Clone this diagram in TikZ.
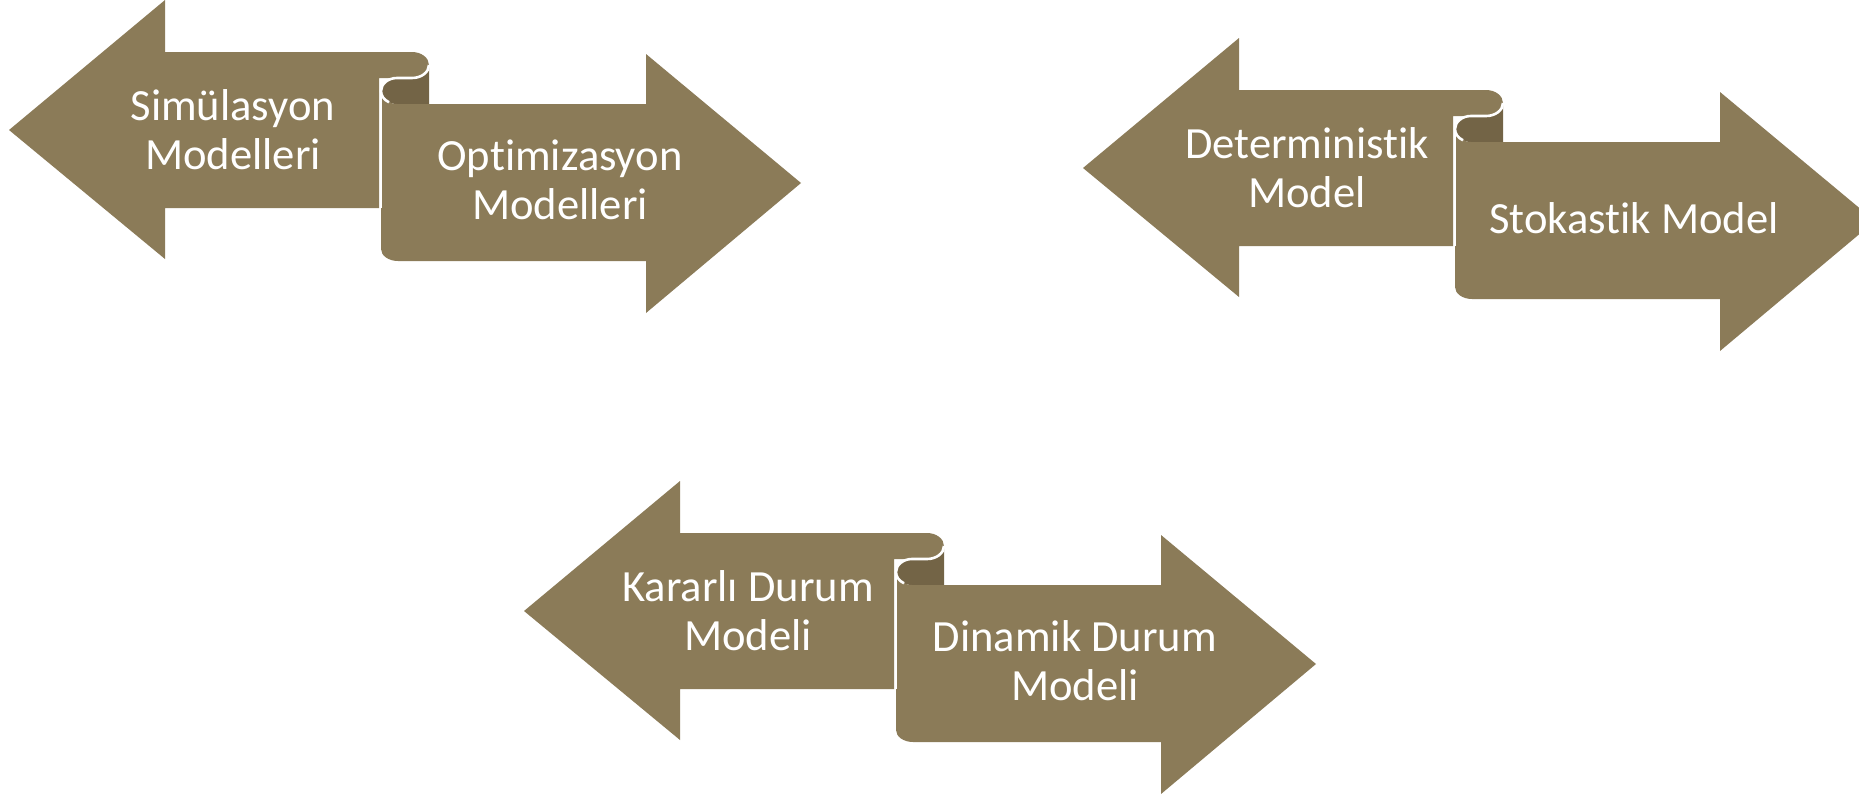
\documentclass[tikz,border=0pt]{standalone}
\usepackage{fontspec}
\setmainfont{Carlito}[Ligatures=NoCommon]
\definecolor{scrolllite}{RGB}{139,123,88}
\definecolor{scrolldark}{RGB}{115,100,70}
\begin{document}
\begin{tikzpicture}[x=0.5pt,y=-0.5pt,every node/.style={text=white,align=center,inner sep=0pt,font=\fontsize{22.3}{24.5}\selectfont},
  lite/.style={fill=scrolllite},
  back/.style={fill=scrolldark},
  rim/.style={draw=white,line width=1.3pt}]
\useasboundingbox (0,0) rectangle (1859,793);
\clip (0,0) rectangle (1859,793);
% first pair
\begin{scope}
\fill[lite] (9,130) -- (165,0) -- (165,52) -- (412,52) arc[start angle=-90, end angle=90, x radius=17, y radius=13] -- (379,78) -- (379,208) -- (165,208) -- (165,259) -- cycle;
\fill[back] (429,65) arc[start angle=0, end angle=90, x radius=17, y radius=13] -- (397,78) arc[start angle=270, end angle=90, x radius=16, y radius=13] -- (429,104) -- cycle;
\fill[lite] (381,91) arc[start angle=180, end angle=90, x radius=16, y radius=13] -- (646,104) -- (646,54) -- (801,183) -- (646,313) -- (646,261) -- (398,261) arc[start angle=90, end angle=180, x radius=17, y radius=12] -- cycle;
\draw[rim] (429,65) arc[start angle=0, end angle=90, x radius=17, y radius=13] -- (397,78) arc[start angle=270, end angle=120, x radius=16, y radius=13];
\draw[rim] (381,91) -- (381,208);
\node (S) at (233,130) {Simülasyon\\Modelleri};
\node (O) at (560,180) {Optimizasyon\\Modelleri};
\end{scope}
% second pair
\begin{scope}[shift={(1074,38)}]
\fill[lite] (9,130) -- (165,0) -- (165,52) -- (412,52) arc[start angle=-90, end angle=90, x radius=17, y radius=13] -- (379,78) -- (379,208) -- (165,208) -- (165,259) -- cycle;
\fill[back] (429,65) arc[start angle=0, end angle=90, x radius=17, y radius=13] -- (397,78) arc[start angle=270, end angle=90, x radius=16, y radius=13] -- (429,104) -- cycle;
\fill[lite] (381,91) arc[start angle=180, end angle=90, x radius=16, y radius=13] -- (646,104) -- (646,54) -- (801,183) -- (646,313) -- (646,261) -- (398,261) arc[start angle=90, end angle=180, x radius=17, y radius=12] -- cycle;
\draw[rim] (429,65) arc[start angle=0, end angle=90, x radius=17, y radius=13] -- (397,78) arc[start angle=270, end angle=120, x radius=16, y radius=13];
\draw[rim] (381,91) -- (381,208);
\node (D) at (233,130) {Deterministik\\Model};
\node (St) at (560,180) {Stokastik Model};
\end{scope}
% third pair
\begin{scope}[shift={(515,481)}]
\fill[lite] (9,130) -- (165,0) -- (165,52) -- (412,52) arc[start angle=-90, end angle=90, x radius=17, y radius=13] -- (379,78) -- (379,208) -- (165,208) -- (165,259) -- cycle;
\fill[back] (429,65) arc[start angle=0, end angle=90, x radius=17, y radius=13] -- (397,78) arc[start angle=270, end angle=90, x radius=16, y radius=13] -- (429,104) -- cycle;
\fill[lite] (381,91) arc[start angle=180, end angle=90, x radius=16, y radius=13] -- (646,104) -- (646,54) -- (801,183) -- (646,313) -- (646,261) -- (398,261) arc[start angle=90, end angle=180, x radius=17, y radius=12] -- cycle;
\draw[rim] (429,65) arc[start angle=0, end angle=90, x radius=17, y radius=13] -- (397,78) arc[start angle=270, end angle=120, x radius=16, y radius=13];
\draw[rim] (381,91) -- (381,208);
\node (K) at (233,130) {Kararlı Durum\\Modeli};
\node (Di) at (560,180) {Dinamik Durum\\Modeli};
\end{scope}
\end{tikzpicture}
\end{document}
